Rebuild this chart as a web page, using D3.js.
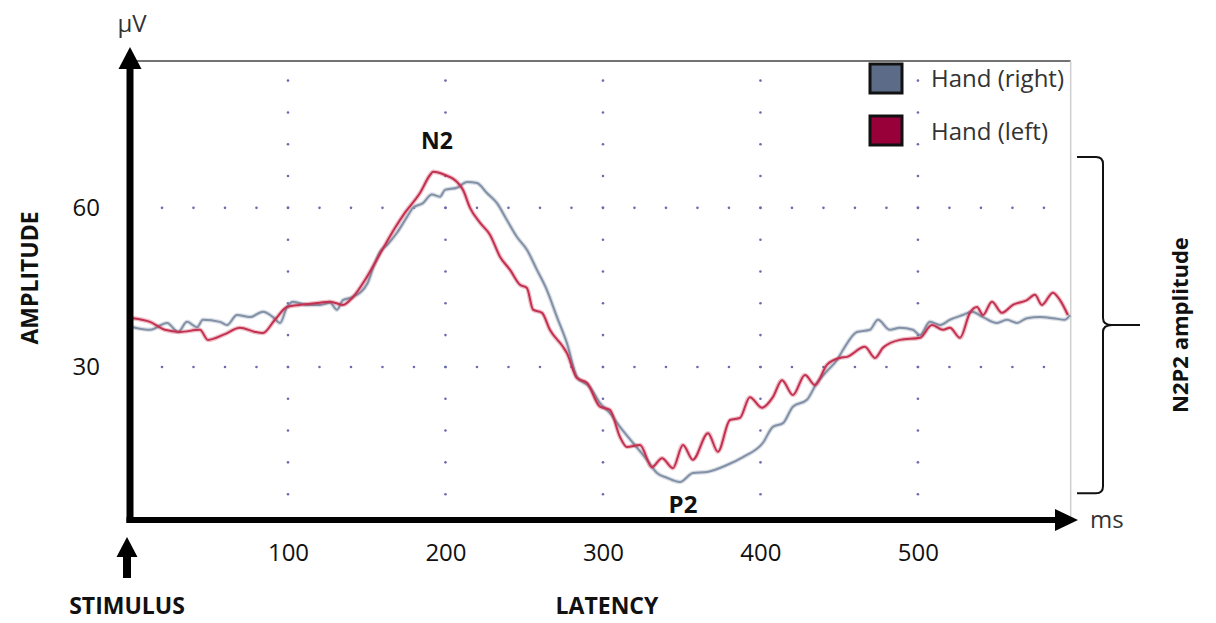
<!DOCTYPE html>
<html>
	<head>
		<title>N2P2 ERP</title>
		<script src="https://d3js.org/d3.v7.min.js"></script>
		<style>
			body { margin: 0; background: #fff; }
			text { font-family: "Open Sans", sans-serif; fill: #111; }
			.bold { font-weight: bold; }
		</style>
	</head>
	<body>
		<div class="erp"></div>
		<script>
			// values (ms, µV)
			var seriesNames = ["Hand (right)", "Hand (left)"];
			var seriesColors = ["#8291a7", "#c4304f"];
			var swatchColors = ["#5c6c88", "#98003a"];

			var rightMs = [1.6, 12.4, 23.2, 30.2, 35.9, 42.2, 46, 56.8, 61.3, 67.6, 75.9, 84.1, 90.5, 94.9, 99.4, 103.2, 112, 120.3, 126.7, 131.1, 134.9, 141.3, 150.5, 154.3, 158.4, 162.9, 169.2, 175.6, 179.4, 185.7, 191.4, 196.5, 199.7, 207.3, 213.7, 220, 226.3, 232.7, 239, 245.4, 251.7, 258.1, 264.4, 270.8, 277.1, 283.5, 291.7, 298.1, 304.4, 310.8, 319, 327.9, 334.3, 340.6, 348.9, 357.1, 366, 378.7, 388.9, 401.6, 407.9, 414.3, 420.6, 429.5, 435.9, 442.2, 448.6, 452.4, 461.3, 469.5, 474.6, 482.2, 488.6, 496.8, 501.3, 507.6, 514, 520.3, 528.6, 534.3, 541.3, 550.2, 556.5, 562.9, 569.2, 577.5, 585.7, 593.3, 596.5];
			var rightUv = [37.5, 37, 38.3, 36.6, 38.5, 37.5, 38.9, 38.5, 37.9, 39.8, 39.4, 40.4, 39.4, 38.3, 41.3, 42.3, 41.7, 41.7, 42.1, 40.8, 42.6, 43.2, 45.8, 48.9, 51.7, 53, 55.3, 58.3, 60, 60.9, 62.5, 62.1, 63.4, 63.8, 64.9, 64.7, 62.8, 60.9, 57.7, 54.5, 52.1, 48.3, 44.5, 39.4, 34.5, 28.1, 26.2, 23.2, 21.3, 18.7, 15.7, 12.5, 10, 9.1, 8.3, 10, 10.2, 11.5, 13, 15.7, 18.7, 19.4, 22.5, 23.8, 27, 29.2, 31.3, 33.2, 36.6, 37, 38.9, 37, 37.4, 37, 36, 38.5, 37.9, 38.9, 39.8, 40.4, 39.4, 38.3, 38.9, 38.3, 39.2, 39.4, 39.2, 38.9, 39.8];

			var leftMs = [1.6, 12.4, 21.9, 31.4, 44.1, 49.2, 60, 69.5, 79, 84.1, 91.7, 99.4, 107.3, 120.3, 126.7, 134.9, 141.3, 148.9, 155.2, 161.6, 167.9, 174.3, 183.8, 190.2, 192.1, 199.7, 207.3, 211.1, 215.6, 221.9, 228.3, 234.6, 241, 247.3, 251.7, 255.6, 261.3, 266.3, 274.6, 277.1, 283.5, 289.8, 298.1, 304.4, 310.8, 315.2, 323.5, 331.1, 337.5, 344.4, 350.8, 357.1, 366.7, 373, 380.6, 387, 393.3, 400.9, 407.9, 413.7, 420.6, 428.3, 434.6, 442.2, 450.5, 454.9, 466.3, 472.7, 477.8, 488.6, 501.3, 508.9, 515.9, 520.3, 526.7, 533, 537.5, 541.3, 547, 553.3, 560.3, 569.2, 574.3, 578.7, 585.7, 590.2, 595.2];
			var leftUv = [39.2, 38.5, 37, 36.6, 37, 35.1, 36.2, 37.4, 36.6, 36.4, 38.9, 41.3, 41.7, 42.1, 42.3, 41.7, 43.2, 46.4, 49.6, 53, 56.2, 59.1, 62.8, 66.2, 66.8, 66.2, 64.9, 63.4, 60, 57.2, 54.9, 50.8, 48.3, 45.5, 44.9, 40.8, 40.2, 37, 33.8, 32.6, 27.9, 27, 22.5, 21.9, 16.8, 14.9, 15.3, 11.1, 12.8, 10.9, 15.3, 12.5, 17.5, 14, 20, 20.4, 24.3, 22.3, 24.3, 27.5, 24.7, 28.5, 26.6, 30.4, 31.7, 31.9, 33.8, 31.7, 33.6, 35.1, 35.5, 37.9, 37, 37.4, 35.5, 40.2, 41.3, 39.8, 42.3, 40.2, 41.7, 42.6, 43.6, 41.7, 44, 42.6, 39.8];

			var xTicks = [100, 200, 300, 400, 500];
			var yTicks = [30, 60];
			var n2p2Range = [69.6, 6.2]; // bracket ends, µV

			var width = 1216, height = 623;

			var x = d3.scaleLinear().domain([0, 597]).range([130.5, 1070.7]);
			var y = d3.scaleLinear().domain([0, 87.7]).range([526, 61]);

			var svg = d3.select(".erp").append("svg")
				.attr("width", width)
				.attr("height", height);

			// frame: top and right edges
			svg.append("line")
				.attr("x1", x(0) + 2).attr("x2", x(597))
				.attr("y1", y(87.7)).attr("y2", y(87.7))
				.attr("stroke", "#444").attr("stroke-width", 1.5);
			svg.append("line")
				.attr("x1", x(597)).attr("x2", x(597))
				.attr("y1", y(87.7)).attr("y2", 517)
				.attr("stroke", "#cfcfcf").attr("stroke-width", 1.5);

			// dotted grid
			var dots = svg.append("g").attr("fill", "#6b6bb0");
			xTicks.forEach(function(t) {
				dots.selectAll(null)
					.data(d3.range(6, 85, 6))
					.enter().append("circle")
					.attr("cx", x(t)).attr("cy", function(d) { return y(d); })
					.attr("r", 1.3);
			});
			yTicks.forEach(function(t) {
				dots.selectAll(null)
					.data(d3.range(20, 581, 20))
					.enter().append("circle")
					.attr("cx", function(d) { return x(d); }).attr("cy", y(t))
					.attr("r", 1.3);
			});

			// legend
			var legend = svg.append("g");
			seriesNames.forEach(function(name, i) {
				legend.append("rect")
					.attr("x", 870).attr("y", 64 + i * 52)
					.attr("width", 32).attr("height", 29)
					.attr("fill", swatchColors[i])
					.attr("stroke", "#111").attr("stroke-width", 3);
				legend.append("text")
					.attr("x", 931).attr("y", 87 + i * 53)
					.style("font-size", "24px")
					.style("fill", "#333")
					.text(name);
			});

			// traces
			var line = d3.line()
				.x(function(d) { return x(d[0]); })
				.y(function(d) { return y(d[1]); })
				.curve(d3.curveMonotoneX);

			var traces = [d3.zip(rightMs, rightUv), d3.zip(leftMs, leftUv)];
			traces.forEach(function(pts, i) {
				svg.append("path")
					.attr("d", line(pts))
					.attr("fill", "none")
					.attr("stroke", seriesColors[i])
					.attr("stroke-opacity", 0.3)
					.attr("stroke-width", 4.5);
				svg.append("path")
					.attr("d", line(pts))
					.attr("fill", "none")
					.attr("stroke", seriesColors[i])
					.attr("stroke-width", 2);
			});

			// axes labels
			var xAxis = svg.append("g")
				.attr("transform", "translate(0,520)")
				.call(d3.axisBottom(x).tickValues(xTicks).tickSize(0).tickPadding(24));
			xAxis.select(".domain").remove();
			xAxis.selectAll("text").style("font-size", "24px").style("font-family", "Open Sans").attr("fill", "#111");

			var yAxis = svg.append("g")
				.attr("transform", "translate(130,0)")
				.call(d3.axisLeft(y).tickValues(yTicks).tickSize(0).tickPadding(30));
			yAxis.select(".domain").remove();
			yAxis.selectAll("text").style("font-size", "24px").style("font-family", "Open Sans").attr("fill", "#111");

			// arrow axes
			svg.append("line")
				.attr("x1", 130).attr("x2", 130).attr("y1", 523).attr("y2", 62)
				.attr("stroke", "#000").attr("stroke-width", 7);
			svg.append("path")
				.attr("d", "M130,47 L141.5,69 L118.5,69 Z")
				.attr("fill", "#000");
			svg.append("line")
				.attr("x1", 126.5).attr("x2", 1058).attr("y1", 520).attr("y2", 520)
				.attr("stroke", "#000").attr("stroke-width", 6);
			svg.append("path")
				.attr("d", "M1078,520 L1055,509 L1055,531 Z")
				.attr("fill", "#000");

			// stimulus marker
			svg.append("path")
				.attr("d", "M127,537 L137.5,557 L131,557 L131,578 L123,578 L123,557 L116.5,557 Z")
				.attr("fill", "#000");

			svg.append("text").attr("x", 132).attr("y", 32)
				.attr("text-anchor", "middle").style("font-size", "24px").style("fill", "#333").text("µV");
			svg.append("text").attr("x", 1090).attr("y", 528)
				.style("font-size", "24px").style("fill", "#333").text("ms");

			svg.append("text").attr("class", "bold").attr("x", 127).attr("y", 614)
				.attr("text-anchor", "middle").style("font-size", "23px").text("STIMULUS");
			svg.append("text").attr("class", "bold").attr("x", 607).attr("y", 614)
				.attr("text-anchor", "middle").style("font-size", "23px").text("LATENCY");
			svg.append("text").attr("class", "bold")
				.attr("transform", "translate(38,278) rotate(-90)")
				.attr("text-anchor", "middle").style("font-size", "23px").text("AMPLITUDE");

			svg.append("text").attr("class", "bold").attr("x", 437).attr("y", 149)
				.attr("text-anchor", "middle").style("font-size", "23px").text("N2");
			svg.append("text").attr("class", "bold").attr("x", 683).attr("y", 513)
				.attr("text-anchor", "middle").style("font-size", "24px").text("P2");

			// N2P2 bracket
			var bt = y(n2p2Range[0]), bb = y(n2p2Range[1]), bm = (bt + bb) / 2;
			var p = d3.path();
			p.moveTo(1077, bt);
			p.lineTo(1096, bt);
			p.quadraticCurveTo(1103, bt, 1103, bt + 7);
			p.lineTo(1103, bm - 7);
			p.quadraticCurveTo(1103, bm, 1112, bm);
			p.lineTo(1140, bm);
			p.moveTo(1112, bm);
			p.quadraticCurveTo(1103, bm, 1103, bm + 7);
			p.lineTo(1103, bb - 7);
			p.quadraticCurveTo(1103, bb, 1096, bb);
			p.lineTo(1077, bb);
			svg.append("path").attr("d", p.toString())
				.attr("fill", "none").attr("stroke", "#111").attr("stroke-width", 2);

			svg.append("text").attr("class", "bold")
				.attr("transform", "translate(1188," + bm + ") rotate(-90)")
				.attr("text-anchor", "middle").style("font-size", "22px").text("N2P2 amplitude");
		</script>
	</body>
</html>
